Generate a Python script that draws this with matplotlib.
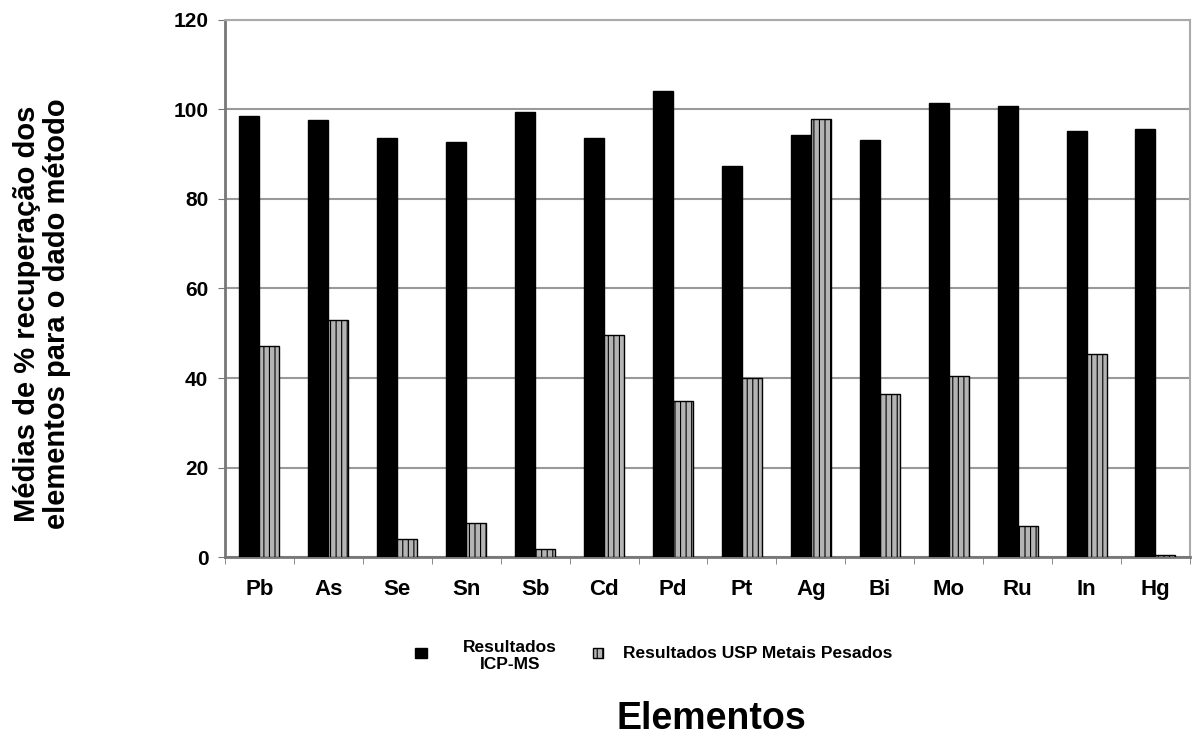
import numpy as np
import matplotlib
matplotlib.use("Agg")
from matplotlib import pyplot as plt
from matplotlib.patches import Rectangle

plt.rcParams["font.family"] = ["Liberation Sans", "DejaVu Sans"]
plt.rcParams["font.weight"] = "bold"
plt.rcParams["hatch.color"] = "#555555"
plt.rcParams["hatch.linewidth"] = 0.8

elementos = ["Pb", "As", "Se", "Sn", "Sb", "Cd", "Pd", "Pt", "Ag", "Bi", "Mo", "Ru", "In", "Hg"]
icp_ms = [98.5, 97.6, 93.7, 92.7, 99.4, 93.7, 104.2, 87.3, 94.2, 93.1, 101.4, 100.8, 95.2, 95.7]
usp = [47.2, 53.0, 4.1, 7.6, 1.7, 49.7, 34.9, 40.0, 97.9, 36.5, 40.5, 6.9, 45.4, 0.4]
y_ticks = [0, 20, 40, 60, 80, 100, 120]
serie_nomes = ["Resultados\nICP-MS", "Resultados USP Metais Pesados"]

W, H = 1194, 737
fig = plt.figure(figsize=(W / 100, H / 100), dpi=100)
ax = fig.add_axes([0.1884, 0.2442, 0.8082, 0.7287])

x = np.arange(len(elementos))
w = 0.29
ax.bar(x - w / 2, icp_ms, w, color="black", edgecolor="black", linewidth=1, zorder=3)
ax.bar(x + w / 2, usp, w, color="#b4b4b4", edgecolor="black", linewidth=1,
       hatch="|||", zorder=3)

ax.set_xlim(-0.5, len(elementos) - 0.5)
ax.set_ylim(0, 120)
ax.set_yticks(y_ticks)
ax.set_xticks(x)
ax.set_xticklabels(elementos, fontsize=16, fontweight="bold")
ax.set_xticks(np.arange(-0.5, len(elementos), 1), minor=True)
ax.tick_params(axis="x", which="major", length=0, pad=16)
ax.tick_params(axis="x", which="minor", length=5, color="#777777", direction="out")
ax.tick_params(axis="y", length=5, color="#777777", labelsize=15, pad=7)
for lab in ax.get_yticklabels():
    lab.set_fontweight("bold")

ax.yaxis.grid(True, color="#999999", linewidth=1.5, zorder=0)
for side in ["left", "bottom"]:
    ax.spines[side].set_color("#777777")
    ax.spines[side].set_linewidth(2)
for side in ["top", "right"]:
    ax.spines[side].set_color("#aaaaaa")
    ax.spines[side].set_linewidth(1.5)

# y label, two lines, far left
fig.text(42 / W, 1 - 314 / H, "Médias de % recuperação dos\nelementos para o dado método",
         rotation=90, ha="center", va="center", ma="center", linespacing=1.05,
         fontsize=21, fontweight="bold")
fig.text(711 / W, 1 - 719 / H, "Elementos", ha="center", va="center",
         fontsize=27, fontweight="bold")

# legend drawn by hand so each entry sits where the reference has it
fig.add_artist(Rectangle((415 / W, 1 - 658 / H), 12 / W, 10 / H,
                         transform=fig.transFigure, facecolor="black",
                         edgecolor="black"))
fig.add_artist(Rectangle((593 / W, 1 - 658 / H), 10 / W, 10 / H,
                         transform=fig.transFigure, facecolor="#b4b4b4",
                         edgecolor="black", hatch="|||"))
fig.text(510 / W, 1 - 656 / H, serie_nomes[0], ha="center", va="center",
         ma="center", fontsize=12.5, fontweight="bold", linespacing=1.1)
fig.text(623 / W, 1 - 654 / H, serie_nomes[1], ha="left", va="center",
         fontsize=12.5, fontweight="bold")

fig.savefig("out.png", dpi=100)
